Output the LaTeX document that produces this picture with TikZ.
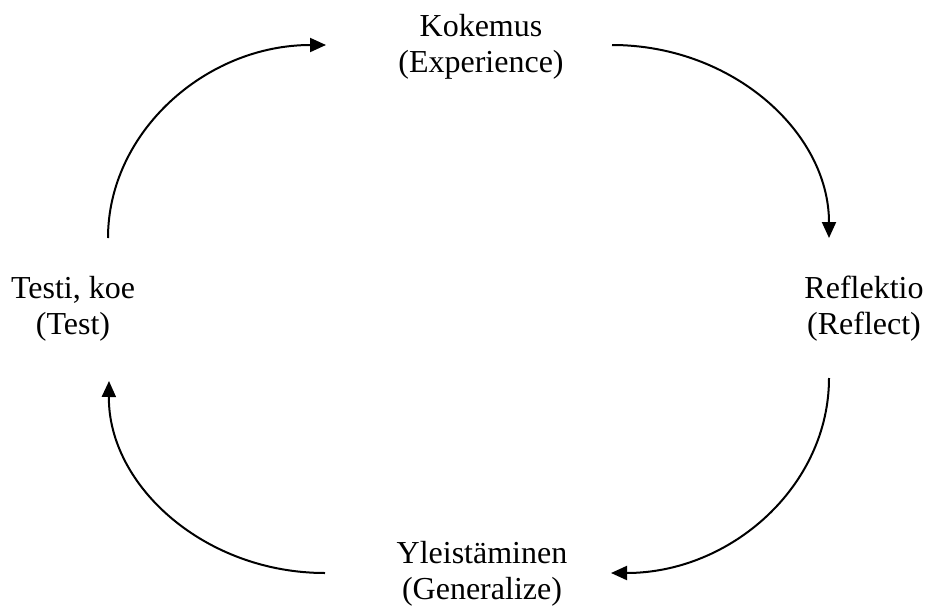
\documentclass[tikz,border=0pt]{standalone}
\usepackage{fontspec}
\setmainfont{Liberation Serif}
\usetikzlibrary{arrows.meta}
\begin{document}
\begin{tikzpicture}[x=1pt,y=-1pt,
  lbl/.style={align=center,inner sep=0pt,font=\fontsize{32}{36}\selectfont},
  cyc/.style={line width=2pt,-{Triangle[length=16pt,width=14pt]}}]
\useasboundingbox (0,0) rectangle (926,608);
% stage labels
\node[lbl] (exp) at (481,47) {Kokemus\\(Experience)};
\node[lbl] (ref) at (864,309) {Reflektio\\(Reflect)};
\node[lbl] (gen) at (482,574) {Yleistäminen\\(Generalize)};
\node[lbl] (tst) at (73,309) {Testi, koe\\(Test)};
% arc end points
\coordinate (tlA) at (108,238);
\coordinate (tlB) at (326,45);
\coordinate (trA) at (612,45);
\coordinate (trB) at (829,238);
\coordinate (brA) at (829,378);
\coordinate (brB) at (611,573);
\coordinate (blA) at (325,573);
\coordinate (blB) at (109,381);
% cycle arrows
\draw[cyc] (tlA) .. controls (108,132) and (206,45) .. (tlB);
\draw[cyc] (trA) .. controls (732,45) and (829,132) .. (trB);
\draw[cyc] (brA) .. controls (829,486) and (731,573) .. (brB);
\draw[cyc] (blA) .. controls (205,573) and (108,486) .. (blB);
\end{tikzpicture}
\end{document}
